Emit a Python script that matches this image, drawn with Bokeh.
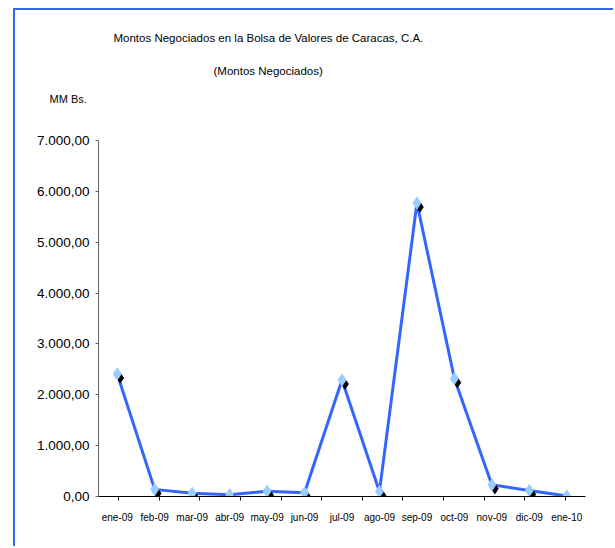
from bokeh.plotting import figure
from bokeh.models import (FactorRange, Range1d, LinearAxis, CategoricalAxis, FixedTicker,
                          ColumnDataSource, Title, CategoricalScale)
from bokeh.transform import dodge
from bokeh.embed import file_html
from bokeh.resources import INLINE

# ---- data ----
months = ["ene-09", "feb-09", "mar-09", "abr-09", "may-09", "jun-09", "jul-09",
          "ago-09", "sep-09", "oct-09", "nov-09", "dic-09", "ene-10"]
montos = [2410, 140, 65, 35, 105, 72, 2290, 100, 5770, 2320, 230, 120, 8]
y_ticks = [0, 1000, 2000, 3000, 4000, 5000, 6000, 7000]
y_tick_labels = ["0,00", "1.000,00", "2.000,00", "3.000,00", "4.000,00",
                 "5.000,00", "6.000,00", "7.000,00"]
title_1 = "Montos Negociados en la Bolsa de Valores de Caracas, C.A."
title_2 = "(Montos Negociados)"
unit_label = "MM Bs."

FONT = "Liberation Sans"
LINE_BLUE = "#3366FF"
MARK_BLUE = "#99CCFF"

src = ColumnDataSource(dict(m=months, v=montos))

p = figure(x_range=FactorRange(*months, range_padding=0),
           y_range=Range1d(0, 7000),
           width=600, height=538,
           min_border_left=83, min_border_right=30,
           min_border_top=130, min_border_bottom=52,
           x_axis_location=None, y_axis_location=None,
           output_backend="svg", toolbar_location=None)
p.styles = {"margin-left": "13px", "margin-top": "8px",
            "border-left": "2px solid #3366FF",
            "border-top": "2px solid #3366FF"}
p.outline_line_color = None
p.xgrid.visible = False
p.ygrid.visible = False
p.background_fill_color = "white"
p.border_fill_color = "white"

# y axis
yax = LinearAxis(ticker=FixedTicker(ticks=y_ticks),
                 major_label_overrides={t: l for t, l in zip(y_ticks, y_tick_labels)})
yax.axis_line_color = "#666666"
yax.major_tick_line_color = "#666666"
yax.major_tick_in = 0
yax.major_tick_out = 3
yax.minor_tick_line_color = None
yax.major_label_text_font = FONT
yax.major_label_text_font_size = "13.5px"
yax.major_label_text_color = "black"
yax.major_label_standoff = 6
p.add_layout(yax, "left")

# x tick marks at the category boundaries (a half-shifted factor range)
bounds = ["b%d" % i for i in range(len(months) + 1)]
p.extra_x_ranges = {"bounds": FactorRange(*bounds, range_padding=-1,
                                          range_padding_units="absolute")}
p.extra_x_scales = {"bounds": CategoricalScale()}
tax = CategoricalAxis(x_range_name="bounds")
tax.axis_line_color = "black"
tax.major_tick_line_color = "black"
tax.major_tick_in = 0
tax.major_tick_out = 4
tax.minor_tick_line_color = None
tax.major_label_text_font_size = "0px"
tax.major_label_text_color = None
tax.major_label_standoff = 0
p.add_layout(tax, "below")

# x category labels
cax = CategoricalAxis()
cax.axis_line_color = None
cax.major_tick_line_color = None
cax.major_tick_in = 0
cax.major_tick_out = 0
cax.major_label_text_font = FONT
cax.major_label_text_font_size = "10px"
cax.major_label_text_color = "black"
cax.major_label_standoff = 11
p.add_layout(cax, "below")

# series
p.line(x="m", y="v", source=src, line_color=LINE_BLUE, line_width=3)
p.scatter(x=dodge("m", 0.08, range=p.x_range), y=dodge("v", -80), source=src,
          marker="diamond", size=10, fill_color="black", line_color="black")
p.scatter(x="m", y="v", source=src, marker="diamond", size=12,
          fill_color=MARK_BLUE, line_color=MARK_BLUE)

# titles (first added sits closest to the plot); blank lines keep the unit
# label high above the plot frame
p.add_layout(Title(text=unit_label + "\n \n ", align="left", offset=-49,
                   vertical_align="top", standoff=20, text_font=FONT,
                   text_font_size="11px", text_font_style="normal",
                   text_color="black"), "above")
p.add_layout(Title(text=title_2, align="left", offset=115, vertical_align="top",
                   standoff=8, text_font=FONT, text_font_size="11.5px",
                   text_font_style="normal", text_color="black"), "above")
p.add_layout(Title(text=title_1, align="left", offset=15, vertical_align="top",
                   standoff=30, text_font=FONT, text_font_size="11.5px",
                   text_font_style="normal", text_color="black"), "above")

open("out.html", "w").write(file_html(p, INLINE))
